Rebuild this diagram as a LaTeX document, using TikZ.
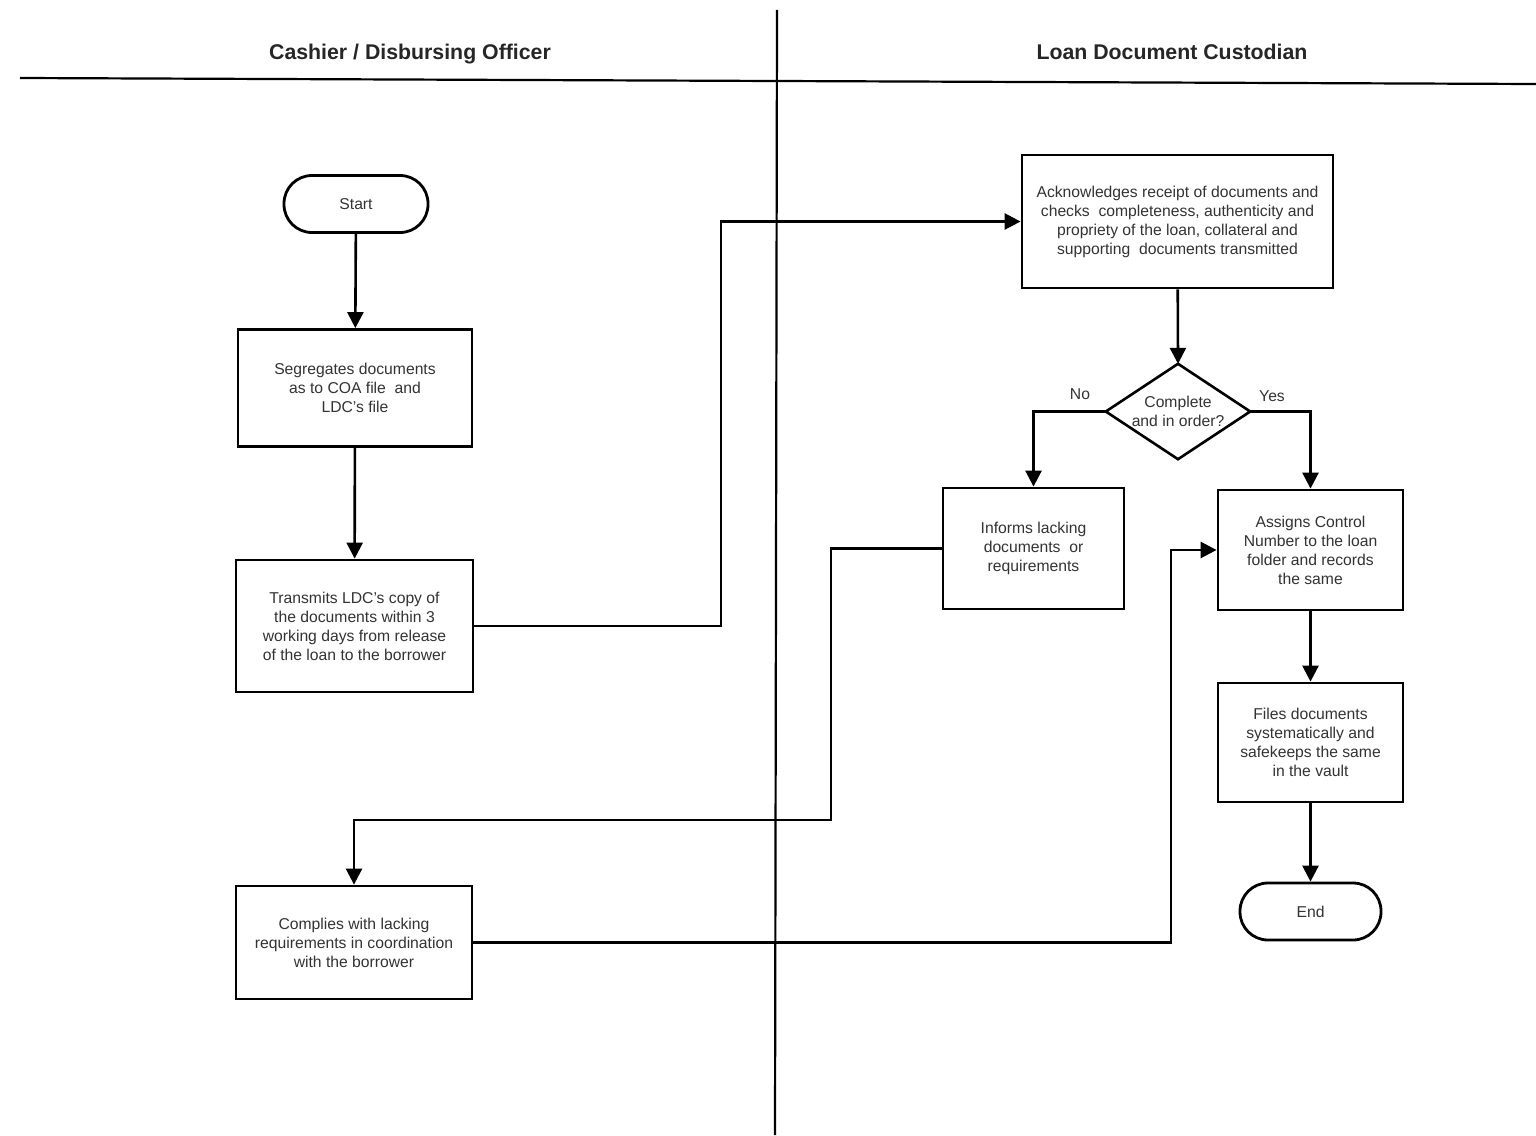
\documentclass[tikz,border=0pt]{standalone}
\usepackage{fontspec}
\setmainfont{Liberation Sans}
\usetikzlibrary{arrows.meta}
\begin{document}
\begin{tikzpicture}[x=1pt,y=-1pt,
  every node/.style={font=\fontsize{15.7}{19}\selectfont, text=black!80, align=center},
  proc/.style={draw=black, line width=2.8pt, inner sep=0pt},
  term/.style={draw=black, line width=2.8pt, rounded corners=28pt, inner sep=0pt, minimum height=57pt},
  conn/.style={draw=black, line width=2.6pt, -{Triangle[length=16pt,width=16pt]}},
  hdr/.style={font=\fontsize{21.3}{25}\selectfont\bfseries, text=black!85},
  lane/.style={draw=black, line width=2.2pt}]
\useasboundingbox (0,0) rectangle (1536,1135);
\fill[white] (0,0) rectangle (1536,1135);

% swimlane lines
\draw[lane] (20,78) -- (1536,84);
\draw[lane] (777,10) -- (775,1135);

% headers
\node[hdr] (h1) at (410,54) {Cashier / Disbursing Officer};
\node[hdr] (h2) at (1172,52) {Loan Document Custodian};

% left lane
\node[term, minimum width=144pt] (start) at (356,204) {Start};
\node[proc, minimum width=234pt, minimum height=117pt] (seg) at (355,388)
  {Segregates documents\\as to COA file\ \ and\\LDC's file};
\node[proc, minimum width=237pt, minimum height=132pt] (trans) at (354.5,626)
  {Transmits LDC's copy of\\the documents within 3\\working days from release\\of the loan to the borrower};
\node[proc, minimum width=236pt, minimum height=113pt] (comp) at (354,942.5)
  {Complies with lacking\\requirements in coordination\\with the borrower};

% right lane
\node[proc, minimum width=311pt, minimum height=133pt] (ack) at (1177.5,221.5)
  {Acknowledges receipt of documents and\\checks\ \ completeness, authenticity and\\propriety of the loan, collateral and\\supporting\ \ documents transmitted};
\node[minimum width=144pt, minimum height=95pt, inner sep=0pt] (dec) at (1178,411.5)
  {Complete\\and in order?};
\draw[black, line width=2.6pt] (dec.north) -- (dec.east) -- (dec.south) -- (dec.west) -- cycle;
\node[proc, minimum width=181pt, minimum height=121pt] (inf) at (1033.5,548.5)
  {Informs lacking\\documents\ \ or\\requirements};
\node[proc, minimum width=185pt, minimum height=120pt] (asg) at (1310.5,550)
  {Assigns Control\\Number to the loan\\folder and records\\the same};
\node[proc, minimum width=185pt, minimum height=119pt] (fil) at (1310.5,742.5)
  {Files documents\\systematically and\\safekeeps the same\\in the vault};
\node[term, minimum width=141pt] (end) at (1310.5,911.5) {End};

\node (no) at (1080,394) {No};
\node (yes) at (1272,396) {Yes};

% connectors
\draw[conn] (start) -- (seg);
\draw[conn] (seg) -- (trans);
\draw[conn] (trans.east) -- (721,626) |- (ack.west);
\draw[conn] (ack) -- (dec.north);
\draw[conn] (dec.west) -| (inf.north);
\draw[conn] (dec.east) -| (asg.north);
\draw[conn] (inf.west) -| (831,820) -| (comp.north);
\draw[conn] (comp.east) -| (1171,550) -- (asg.west);
\draw[conn] (asg) -- (fil);
\draw[conn] (fil) -- (end);
\end{tikzpicture}
\end{document}
